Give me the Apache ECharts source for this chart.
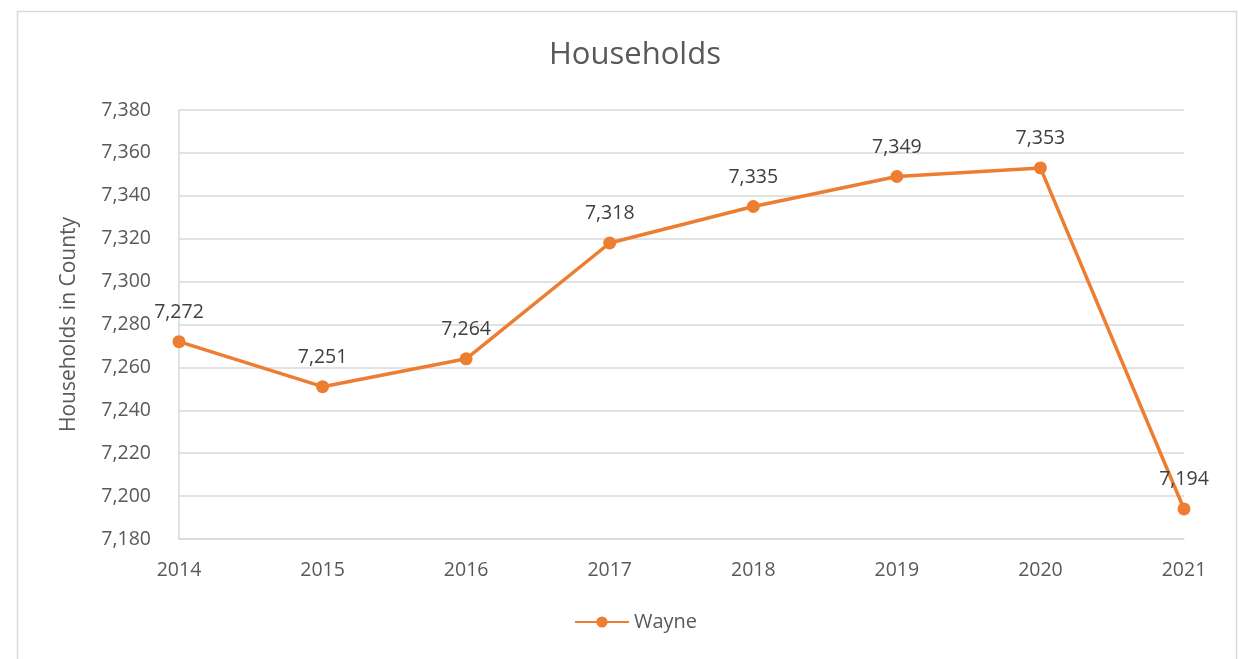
<!DOCTYPE html>
<html>
<head>
<meta charset="utf-8">
<script src="https://cdn.jsdelivr.net/npm/echarts@6/dist/echarts.min.js"></script>
<style>
html, body { margin: 0; padding: 0; background: #ffffff; }
#main { width: 1239px; height: 659px; }
</style>
</head>
<body>
<div id="main"></div>
<script>
// 年份与户数
var years = ['2014', '2015', '2016', '2017', '2018', '2019', '2020', '2021'];
var wayne = [7272, 7251, 7264, 7318, 7335, 7349, 7353, 7194];
var yMin = 7180, yMax = 7380, yStep = 20;

var myChart = echarts.init(document.getElementById('main'));
var fmt = function(v) {
	return Number(v).toLocaleString('en-US');
};

option = {
	backgroundColor : '#ffffff',
	textStyle : {
		fontFamily : 'Open Sans'
	},
	graphic : [ {
		type : 'rect',
		shape : { x : 17.5, y : 11.5, width : 1219, height : 660 },
		style : { fill : 'none', stroke : '#d9d9d9', lineWidth : 1.5 },
		silent : true
	} ],
	title : {
		text : 'Households',
		left : 544,
		top : 35,
		textStyle : {
			fontSize : 31,
			fontWeight : 'normal',
			color : '#595959'
		}
	},
	legend : {
		bottom : 22,
		left : 569,
		itemWidth : 54,
		itemHeight : 14,
		textStyle : { fontSize : 20, color : '#595959' },
		data : [ 'Wayne' ]
	},
	grid : {
		left : 179,
		right : 55,
		top : 110,
		bottom : 120
	},
	xAxis : {
		type : 'category',
		boundaryGap : false,
		data : years,
		axisLine : { lineStyle : { color : '#d9d9d9', width : 1.5 } },
		axisTick : { show : false },
		axisLabel : { fontSize : 19.5, color : '#595959', margin : 21 }
	},
	yAxis : {
		type : 'value',
		min : yMin,
		max : yMax,
		interval : yStep,
		name : 'Households in County',
		nameLocation : 'middle',
		nameGap : 99,
		nameTextStyle : { fontSize : 21, color : '#595959' },
		axisLine : { show : true, lineStyle : { color : '#d9d9d9', width : 1.5 } },
		axisTick : { show : false },
		axisLabel : { fontSize : 19.5, color : '#595959', margin : 28, formatter : fmt },
		splitLine : { lineStyle : { color : '#d9d9d9', width : 1.5 } }
	},
	series : [ {
		name : 'Wayne',
		type : 'line',
		data : wayne,
		symbol : 'circle',
		symbolSize : 13,
		color : '#ed7d31',
		lineStyle : { color : '#ed7d31', width : 3.5 },
		itemStyle : { color : '#ed7d31' },
		label : {
			show : true,
			position : 'top',
			distance : 13,
			fontSize : 19.5,
			color : '#404040',
			formatter : function(p) { return fmt(p.value); }
		},
		animation : false
	} ]
};
myChart.setOption(option);
</script>
</body>
</html>
